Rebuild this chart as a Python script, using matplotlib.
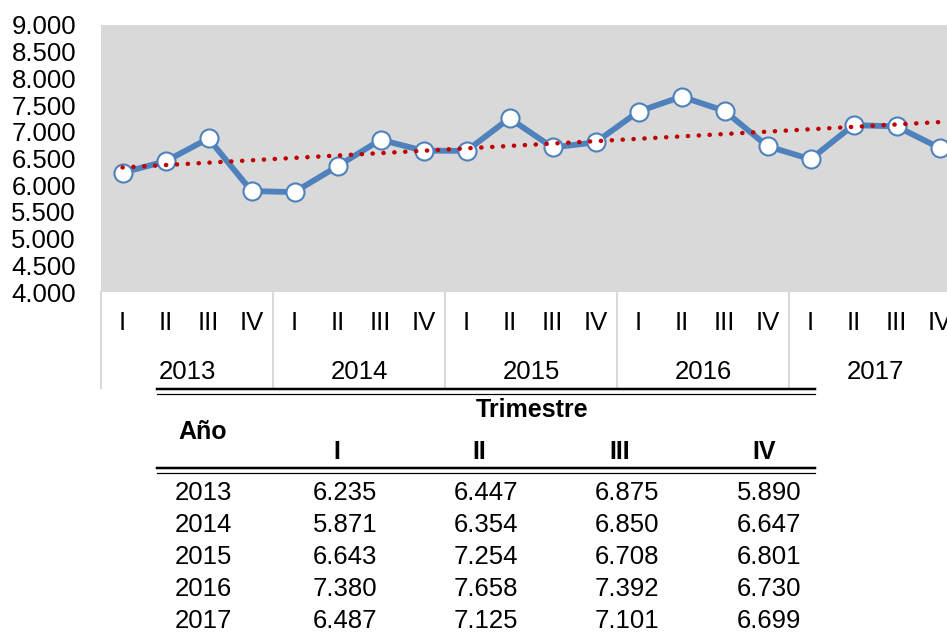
import numpy as np
import matplotlib.pyplot as plt
from matplotlib.lines import Line2D
from matplotlib.transforms import blended_transform_factory

plt.rcParams['font.family'] = ['Liberation Sans', 'DejaVu Sans']

years = ['2013', '2014', '2015', '2016', '2017']
quarters = ['I', 'II', 'III', 'IV']
values = [
    [6235, 6447, 6875, 5890],
    [5871, 6354, 6850, 6647],
    [6643, 7254, 6708, 6801],
    [7380, 7658, 7392, 6730],
    [6487, 7125, 7101, 6699],
]

W, H = 947, 637


def fmt(v):
    return f'{v:,.0f}'.replace(',', '.')


def fx(px):
    return px / W


def fy(py):
    return 1 - py / H


fig = plt.figure(figsize=(W / 100, H / 100), dpi=100)
ax = fig.add_axes([fx(101), fy(292), fx(961) - fx(101), fy(25) - fy(292)])
ax.set_facecolor('#D9D9D9')

series = np.array(values).ravel()
x = np.arange(len(series))

# linear trend (as in Excel)
k, b = np.polyfit(x, series, 1)
ax.plot(x, k * x + b, color='#C00000', lw=3.2, linestyle=(0, (0.05, 2.4)),
        dash_capstyle='round', zorder=3)
ax.plot(x, series, color='#4F81BD', lw=4.2, marker='o', ms=13,
        mfc='white', mec='#4F81BD', mew=1.5, zorder=2)

ax.set_xlim(-0.5, len(series) - 0.5)
ax.set_ylim(4000, 9000)
ax.set_yticks(np.arange(4000, 9001, 500))
ax.set_yticklabels([fmt(v) for v in np.arange(4000, 9001, 500)])
ax.set_xticks(x)
ax.set_xticklabels(quarters * len(years))
ax.tick_params(axis='y', length=0, pad=18, labelsize=18.5)
ax.tick_params(axis='x', length=0, pad=14, labelsize=18.5)
for s in ax.spines.values():
    s.set_visible(False)

tr = blended_transform_factory(ax.transData, ax.transAxes)
for i, y in enumerate(years):
    ax.text(i * 4 + 1.5, -0.30, y, transform=tr, ha='center', va='center',
            fontsize=18.5)
for i in range(len(years) + 1):
    ax.add_line(Line2D([i * 4 - 0.5, i * 4 - 0.5], [0, -0.36], transform=tr,
                       color='#D9D9D9', lw=1.5, clip_on=False))

# table
x0, x1 = fx(157), fx(815)
for py, lw in [(389, 2.5), (393.5, 1.2), (468, 2.5), (472.5, 1.2)]:
    fig.add_artist(Line2D([x0, x1], [fy(py), fy(py)], color='black', lw=lw * 0.72))

fig.text(fx(532), fy(410), 'Trimestre', ha='center', va='center',
         fontsize=18, fontweight='bold')
fig.text(fx(203), fy(432), 'Año', ha='center', va='center',
         fontsize=18, fontweight='bold')
head_x = [337, 479, 620, 764]
for q, hx in zip(quarters, head_x):
    fig.text(fx(hx), fy(452), q, ha='center', va='center',
             fontsize=18, fontweight='bold')

col_x = [345, 486, 627, 769]
row_y = [493, 525, 557, 589, 621]
for y, row, ry in zip(years, values, row_y):
    fig.text(fx(203), fy(ry), y, ha='center', va='center', fontsize=18.5)
    for v, cx in zip(row, col_x):
        fig.text(fx(cx), fy(ry), fmt(v), ha='center', va='center', fontsize=18.5)

fig.savefig('out.png', dpi=100)
